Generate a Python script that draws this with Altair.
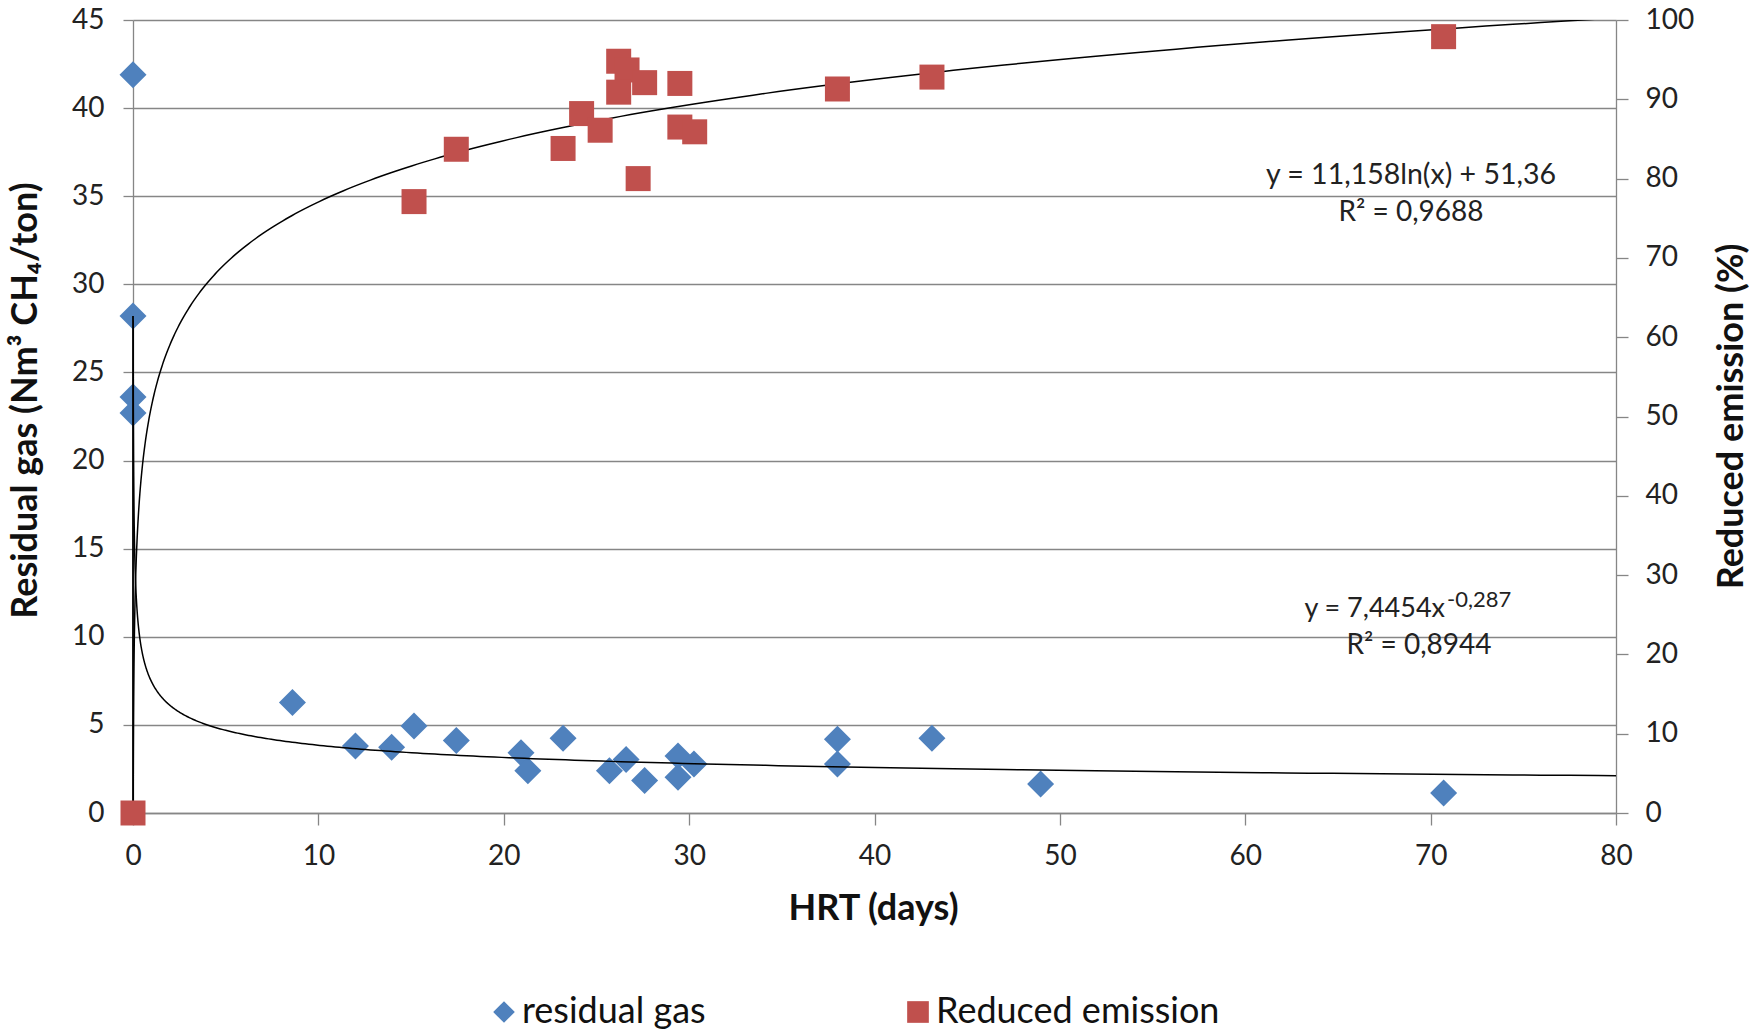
import altair as alt
import pandas as pd

# ---------------- data ----------------
# residual gas (left axis, Nm3 CH4/ton)
gas_hrt = [0, 0, 0, 0, 8.6, 12.0, 13.95, 15.16, 17.44, 20.93, 21.3, 23.2,
           25.7, 26.6, 27.6, 29.4, 29.4, 30.26, 38.0, 38.0, 43.1, 48.96, 70.7]
gas_val = [41.9, 28.2, 23.6, 22.7, 6.27, 3.8, 3.73, 4.94, 4.11, 3.42, 2.4, 4.24,
           2.4, 3.04, 1.84, 3.23, 2.03, 2.78, 4.18, 2.78, 4.24, 1.65, 1.14]

# reduced emission (right axis, %)
em_hrt = [0, 15.16, 17.44, 23.2, 24.2, 25.2, 26.2, 26.65, 26.2, 27.25, 27.6,
          29.5, 29.5, 30.3, 38.0, 43.1, 70.7]
em_val = [0, 77.1, 83.7, 83.8, 88.2, 86.1, 94.8, 93.7, 90.9, 80.0, 92.1,
          92.0, 86.5, 85.9, 91.3, 92.8, 97.9]

# trendline equations shown in the chart
log_coef = [11.158, 51.36]      # y = a ln(x) + b
pow_coef = [7.4454, -0.287]     # y = a x^b
connector = [0, 28.2, 0]        # x, y_top, y_bottom of the line at HRT = 0

series_names = ["residual gas", "Reduced emission"]
series_colors = ["#4F81BD", "#C0504D"]
series_shapes = ["diamond", "square"]

eq_texts = ["y = 11,158ln(x) + 51,36", "R² = 0,9688",
            "y = 7,4454x", "-0,287", "R² = 0,8944"]

x_ticks = list(range(0, 81, 10))
left_ticks = list(range(0, 46, 5))
right_ticks = list(range(0, 101, 10))

# ---------------- chart ----------------
W, H = 1483, 793
FONT = "Lato"
GRAY = "#868686"

gas_df = pd.DataFrame({"HRT": gas_hrt, "value": gas_val, "series": series_names[0]})
em_df = pd.DataFrame({"HRT": em_hrt, "value": em_val, "series": series_names[1]})
one = pd.DataFrame({"k": [0]})

xscale = alt.Scale(domain=[0, 80], nice=False)
lscale = alt.Scale(domain=[0, 45], nice=False)
rscale = alt.Scale(domain=[0, 100], nice=False)

legend = alt.Legend(title=None, orient="none", direction="horizontal",
                    legendX=353, legendY=974, columnPadding=194,
                    labelOffset=0, symbolSize=470, labelFont=FONT,
                    labelFontSize=36, labelColor="#111", padding=0,
                    symbolStrokeWidth=0, labelLimit=500)
color = alt.Color("series:N", scale=alt.Scale(domain=series_names, range=series_colors),
                  legend=legend)
shape = alt.Shape("series:N", scale=alt.Scale(domain=series_names, range=series_shapes),
                  legend=legend)

x_axis = alt.Axis(values=x_ticks, title="HRT (days)", grid=False, tickSize=12,
                  labelPadding=17, labelFlush=False, titleX=740, titleY=95,
                  titleBaseline="middle")
left_axis = alt.Axis(values=left_ticks, title="Residual gas (Nm³ CH₄/ton)", grid=True,
                     tickSize=10, labelPadding=19, labelFlush=False, titleAngle=270,
                     titleX=-108, titleY=380, titleBaseline="middle", titleAlign="center")
right_axis = alt.Axis(values=right_ticks, title="Reduced emission (%)", orient="right",
                      grid=False, tickSize=12, labelPadding=17, labelFlush=False,
                      titleAngle=270, titleX=115, titleY=396, titleBaseline="middle",
                      titleAlign="center")

X = alt.X("HRT:Q", scale=xscale, axis=x_axis)
YL = alt.Y("value:Q", scale=lscale, axis=left_axis)
YR = alt.Y("value:Q", scale=rscale, axis=right_axis)

# --- left-axis layer ---
gas_pts = alt.Chart(gas_df).mark_point(filled=True, size=729, opacity=1).encode(
    x=X, y=YL, color=color, shape=shape,
)

pow_curve = alt.Chart(alt.sequence(-4.61, 4.40, 0.02, as_="t")).transform_calculate(
    HRT="exp(datum.t)",
    value=f"{pow_coef[0]} * pow(exp(datum.t), {pow_coef[1]})",
).mark_line(color="black", strokeWidth=1.5, clip=True).encode(
    x=X, y=YL, order="t:Q",
)

conn_df = pd.DataFrame({"HRT": [connector[0]], "value": [connector[1]], "bottom": [connector[2]]})
conn = alt.Chart(conn_df).mark_rule(color="black", strokeWidth=1.8).encode(
    x=X, y=YL, y2="bottom:Q",
)

def label(txt, px, py, size=28, align="center"):
    return alt.Chart(one).mark_text(font=FONT, fontSize=size, color="#222",
                                    align=align, baseline="middle").encode(
        x=alt.value(px), y=alt.value(py), text=alt.value(txt))

texts = alt.layer(
    label(eq_texts[0], 1278, 155, size=28.5),
    label(eq_texts[1], 1278, 193),
    label(eq_texts[2], 1312, 589, size=27, align="right"),
    label(eq_texts[3], 1314, 580, size=22, align="left"),
    label(eq_texts[4], 1286, 626),
)

left = alt.layer(gas_pts, pow_curve, conn)

# --- right-axis layer ---
em_pts = alt.Chart(em_df).mark_point(filled=True, size=625, opacity=1).encode(
    x=X, y=YR, color=color, shape=shape,
)

log_curve = alt.Chart(alt.sequence(-4.61, 4.40, 0.02, as_="t")).transform_calculate(
    HRT="exp(datum.t)",
    value=f"{log_coef[0]} * datum.t + {log_coef[1]}",
).mark_line(color="black", strokeWidth=1.5, clip=True).encode(
    x=X, y=YR, order="t:Q",
)

right = alt.layer(log_curve, em_pts)

chart = alt.layer(left, right, texts).resolve_scale(y="independent").properties(
    width=W, height=H,
    autosize=alt.AutoSizeParams(type="none"),
    padding={"left": 133, "top": 20, "right": 133, "bottom": 217},
    background="white",
).configure_view(stroke=None).configure_axis(
    labelFont=FONT, labelFontSize=28, labelColor="#222",
    titleFont=FONT, titleFontSize=36, titleFontWeight="bold", titleColor="#111",
    domainColor=GRAY, tickColor=GRAY, gridColor=GRAY, domainWidth=1.3,
    tickWidth=1.3, gridWidth=1.3,
)

chart.save("out.html", embed_options={"renderer": "svg", "actions": False})
